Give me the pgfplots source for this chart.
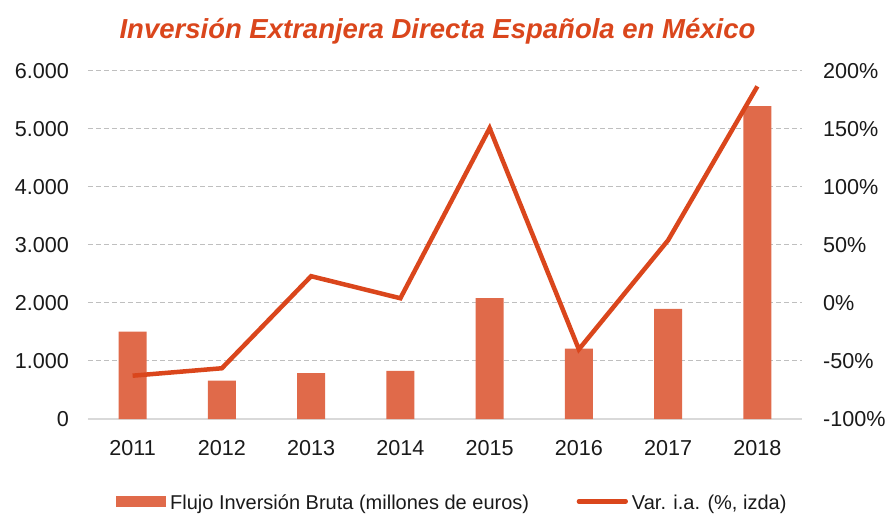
\documentclass[border=0pt]{standalone}
\usepackage{fontspec}
\setmainfont{Liberation Sans}
\usepackage{pgfplots}
\pgfplotsset{compat=1.18}
\definecolor{barc}{RGB}{224,106,74}
\definecolor{linec}{RGB}{218,70,28}
\definecolor{gridc}{RGB}{191,191,191}
\definecolor{axc}{RGB}{217,217,217}
\definecolor{txt}{RGB}{26,26,26}
\begin{document}
\begin{tikzpicture}
\useasboundingbox (-44pt,-47.5pt) rectangle (400pt,209.5pt);
\begin{axis}[
  at={(0,0)}, anchor=south west,
  scale only axis, width=357pt, height=174.15pt,
  xmin=-0.5, xmax=7.5, ymin=0, ymax=6000,
  xtick={0,1,2,3,4,5,6,7},
  xticklabels={2011,2012,2013,2014,2015,2016,2017,2018},
  ytick={0,1000,2000,3000,4000,5000,6000},
  yticklabels={0,1.000,2.000,3.000,4.000,5.000,6.000},
  major tick length=0pt,
  axis x line*=bottom, axis y line*=left,
  x axis line style={draw=axc, line width=0.75pt, -},
  y axis line style={draw=none},
  ymajorgrids,
  grid style={draw=gridc, line width=0.5pt, dash pattern=on 2.5pt off 1.5pt},
  tick label style={font=\fontsize{10.8}{12}\selectfont, text=txt},
  /pgf/number format/assume math mode=true,
  yticklabel style={xshift=-6pt},
  xticklabel style={yshift=-7.3pt},
  title={Inversión Extranjera Directa Española en México},
  every axis title/.style={at={(0.4895,1)}, anchor=base, yshift=16.2pt,
    font=\bfseries\itshape\fontsize{13.75}{16}\selectfont, text=linec},
]
\addplot[ybar, bar width=14pt, fill=barc, draw=none]
  coordinates {(0,1504) (1,660) (2,792) (3,827) (4,2084) (5,1211) (6,1895) (7,5392)};
\end{axis}
\begin{axis}[
  at={(0,0)}, anchor=south west,
  scale only axis, width=357pt, height=174.15pt,
  xmin=-0.5, xmax=7.5, ymin=-100, ymax=200,
  axis x line=none, axis y line*=right,
  y axis line style={draw=none},
  major tick length=0pt,
  ytick={-100,-50,0,50,100,150,200},
  yticklabels={-100\%,-50\%,0\%,50\%,100\%,150\%,200\%},
  tick label style={font=\fontsize{10.8}{12}\selectfont, text=txt},
  /pgf/number format/assume math mode=true,
  yticklabel style={xshift=7pt},
  legend columns=2,
  legend style={draw=none, fill=none, at={(0.5077,0)}, anchor=center, yshift=-42.5pt, xshift=1.4pt,
    font=\fontsize{10}{12}\selectfont, text=txt,
    /tikz/every even column/.append style={column sep=21.75pt}},
]
\addlegendimage{fill=barc, draw=none, legend image code/.code={\fill[barc] (0pt,-1.5pt) rectangle (25pt,4pt);}}
\addlegendentry{Flujo Inversión Bruta (millones de euros)}
\addplot[linec, line width=2.25pt, legend image code/.code={\draw[linec, line width=2.25pt, line cap=round] (1.1pt,1.3pt) -- (24.5pt,1.3pt);}]
  coordinates {(0,-62.7) (1,-56.3) (2,23) (3,4) (4,150.5) (5,-40) (6,54) (7,186.5)};
\addlegendentry{Var. i.a. (\%, izda)}
\end{axis}
\end{tikzpicture}
\end{document}
